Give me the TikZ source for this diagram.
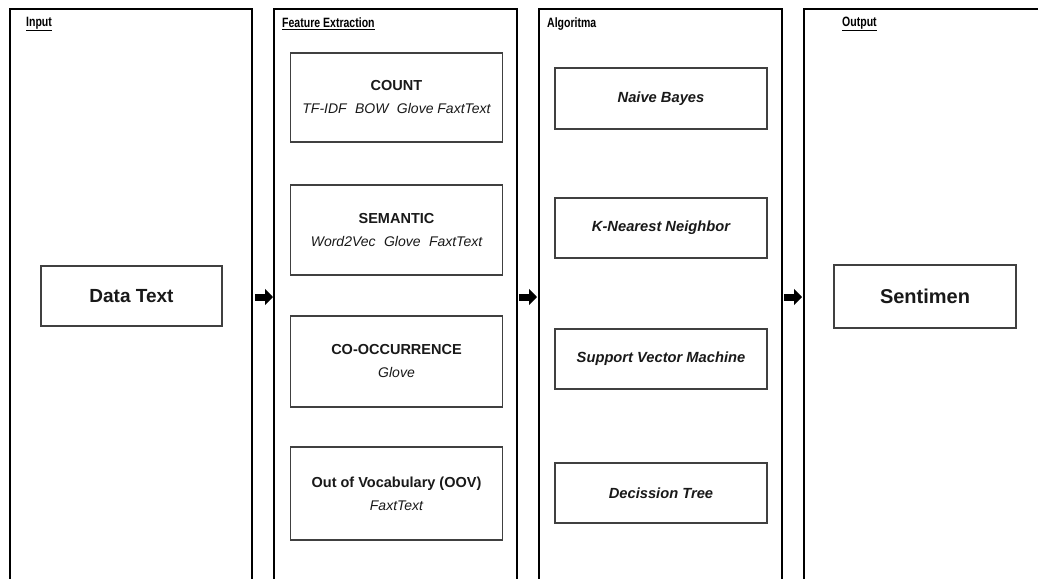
\documentclass[tikz,border=0pt]{standalone}
\usepackage{fontspec}
\setmainfont{Liberation Sans}
\newfontfamily\headfont[FakeStretch=0.78]{Liberation Sans}
\usetikzlibrary{arrows.meta}
\tikzset{
  panel/.style={draw=black, line width=1.6pt, inner sep=0pt},
  ibox/.style={draw=black!75, line width=1.2pt, inner sep=0pt, align=center, text=black!90},
  fbox/.style={ibox, font=\fontsize{14}{19}\selectfont},
  head/.style={anchor=west, inner sep=0pt, font=\headfont\bfseries\fontsize{13.5}{15}\selectfont},
  flow/.style={line width=7pt, -{Triangle[length=8pt,width=16pt]}},
  algo/.style={ibox, font=\bfseries\itshape\fontsize{14.7}{17}\selectfont}
}
\newcommand{\gp}{\hspace{0.6em}}
\newcommand{\ttl}[1]{{\fontsize{14.5}{19}\selectfont\bfseries #1}}
\newcommand{\sbt}[1]{{\itshape\fontsize{14}{19}\selectfont #1}}
\begin{document}
\begin{tikzpicture}[x=1pt,y=-1pt]
\useasboundingbox (0,0) rectangle (1038,578);
\fill[white] (0,0) rectangle (1038,578);
\clip (0,0) rectangle (1038,578);

% panels
\node[panel, minimum width=242pt, minimum height=611pt] (pin) at (131,314.5) {};
\node[panel, minimum width=243pt, minimum height=611pt] (pfe) at (395.5,314.5) {};
\node[panel, minimum width=243pt, minimum height=611pt] (pal) at (660.5,314.5) {};
\node[panel, minimum width=256pt, minimum height=611pt] (pout) at (932,314.5) {};

% headers
\node[head] (hin) at (26,24) {\underline{Input}};
\node[head] (hfe) at (282,24) {\underline{Feature Extraction}};
\node[head] (hal) at (547,24) {Algoritma};
\node[head] (hout) at (842,24) {\underline{Output}};

% input
\node[ibox, minimum width=181pt, minimum height=60pt, font=\bfseries\fontsize{19}{22}\selectfont] (data) at (131.5,296) {Data Text};

% feature extraction
\node[fbox, minimum width=212pt, minimum height=89pt] (count) at (396.5,97.5)
  {\ttl{COUNT}\\[4pt]\sbt{TF-IDF\gp BOW\gp Glove FaxtText}};
\node[fbox, minimum width=212pt, minimum height=90pt] (sem) at (396.5,230)
  {\ttl{SEMANTIC}\\[4pt]\sbt{Word2Vec\gp Glove\gp FaxtText}};
\node[fbox, minimum width=212pt, minimum height=91pt] (cooc) at (396.5,361.5)
  {\ttl{CO-OCCURRENCE}\\[4pt]\sbt{Glove}};
\node[fbox, minimum width=212pt, minimum height=93pt] (oov) at (396.5,493.5)
  {\ttl{Out of Vocabulary (OOV)}\\[4pt]\sbt{FaxtText}};

% algorithms
\node[algo, minimum width=212pt, minimum height=61pt] (nb) at (661,98.5) {Naive Bayes};
\node[algo, minimum width=212pt, minimum height=60pt] (knn) at (661,228) {K-Nearest Neighbor};
\node[algo, minimum width=212pt, minimum height=60pt] (svm) at (661,359) {Support Vector Machine};
\node[algo, minimum width=212pt, minimum height=60pt] (dt) at (661,493) {Decission Tree};

% output
\node[ibox, minimum width=182pt, minimum height=63pt, font=\bfseries\fontsize{20}{23}\selectfont] (sent) at (925,296.5) {Sentimen};

% arrows
\coordinate (a1s) at (255,297);
\coordinate (a1e) at (273,297);
\coordinate (a2s) at (519,297);
\coordinate (a2e) at (537,297);
\coordinate (a3s) at (784,297);
\coordinate (a3e) at (802,297);
\draw[flow] (a1s) -- (a1e);
\draw[flow] (a2s) -- (a2e);
\draw[flow] (a3s) -- (a3e);
\end{tikzpicture}
\end{document}
